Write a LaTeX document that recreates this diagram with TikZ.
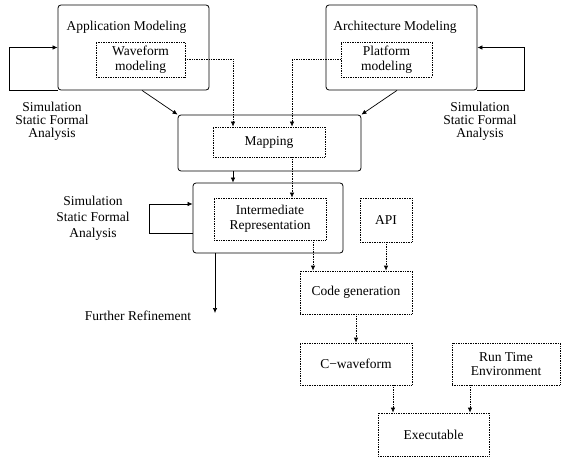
\documentclass[tikz,border=0pt]{standalone}
\usepackage{fontspec}
\setmainfont{Liberation Serif}
\usetikzlibrary{arrows.meta}
\begin{document}
\begin{tikzpicture}[x=1pt,y=-1pt,
  every node/.style={font=\fontsize{13.5}{14.5}\selectfont, inner sep=0pt, align=center},
  solidbox/.style={draw, rounded corners=3pt, line width=0.8pt},
  dotbox/.style={draw, densely dotted, line width=0.7pt},
  arr/.style={-{Latex[length=5pt,width=4.5pt]}, line width=0.7pt},
  darr/.style={arr, densely dotted},
  lbl/.style={font=\fontsize{13.5}{13}\selectfont}]
\useasboundingbox (0,0) rectangle (561,462);
% outer solid boxes
\node[solidbox, minimum width=151pt, minimum height=85pt] (app) at (133.5,47.5) {};
\node (apptitle) at (126.5,27) {Application Modeling};
\node[dotbox, minimum width=89pt, minimum height=35pt] (wave) at (140.5,59.5) {Waveform\\modeling};
\node[solidbox, minimum width=151pt, minimum height=85pt] (arch) at (401.5,47.5) {};
\node (archtitle) at (395,27) {Architecture Modeling};
\node[dotbox, minimum width=91pt, minimum height=35pt] (plat) at (386.5,59.5) {Platform\\modeling};
\node[solidbox, minimum width=183pt, minimum height=56pt] (map) at (269.5,143) {};
\node[dotbox, minimum width=112pt, minimum height=30pt] (mapin) at (269,142) {Mapping};
\node[solidbox, minimum width=150pt, minimum height=70pt] (IR) at (268,218) {};
\node[dotbox, minimum width=112pt, minimum height=42pt, font=\fontsize{13.5}{15}\selectfont] (IRin) at (270,219) {Intermediate\\Representation};
\node[dotbox, minimum width=52pt, minimum height=44pt] (api) at (386,220) {API};
\node[dotbox, minimum width=112pt, minimum height=43pt] (cg) at (356,292.5) {Code generation};
\node[dotbox, minimum width=112pt, minimum height=42pt] (cw) at (356,364) {C\textminus waveform};
\node[dotbox, minimum width=108pt, minimum height=42pt] (rte) at (506,364) {Run Time\\Environment};
\node[dotbox, minimum width=111pt, minimum height=43pt] (exe) at (433.5,434.5) {Executable};
% labels
\node[lbl] (sim1) at (52,121) {Simulation\\Static Formal\\Analysis};
\node[lbl] (sim2) at (480,121) {Simulation\\Static Formal\\Analysis};
\node[font=\fontsize{13.5}{16}\selectfont] (sim3) at (93,218) {Simulation\\Static Formal\\Analysis};
\node (frtext) at (138,316) {Further Refinement};
\coordinate (frend) at (215,313);
% loops
\draw[arr] (app.south west) -- ++(-48,0) |- (app.west);
\draw[arr] (arch.south east) -- ++(47,0) |- (arch.east);
\draw[arr] ([yshift=-15pt]IR.west) -- ++(-43,0) |- ([yshift=14pt]IR.west);
% solid arrows
\draw[arr] ([xshift=8.5pt]app.south) -- (map.north west);
\draw[arr] ([xshift=-4.5pt]arch.south) -- (map.north east);
\draw[arr] ([xshift=-36.5pt]map.south) -- ([xshift=-36.5pt]map.south |- IR.north);
\draw[arr] (IR.south -| frend) -- (frend);
% dotted arrows
\draw[darr] (wave.east) -| ([xshift=-36pt]mapin.north);
\draw[darr] (plat.west) -| ([xshift=23pt]mapin.north);
\draw[darr] ([xshift=23pt]mapin.south) -- ([xshift=23pt]mapin.south |- IRin.north);
\draw[darr] ([xshift=43pt]IRin.south) -- ([xshift=43pt]IRin.south |- cg.north);
\draw[darr] (api.south) -- (api.south |- cg.north);
\draw[darr] (cg.south) -- (cw.north);
\draw[darr] ([xshift=37pt]cw.south) -- ([xshift=37pt]cw.south |- exe.north);
\draw[darr] ([xshift=-36pt]rte.south) -- ([xshift=-36pt]rte.south |- exe.north);
\end{tikzpicture}
\end{document}
